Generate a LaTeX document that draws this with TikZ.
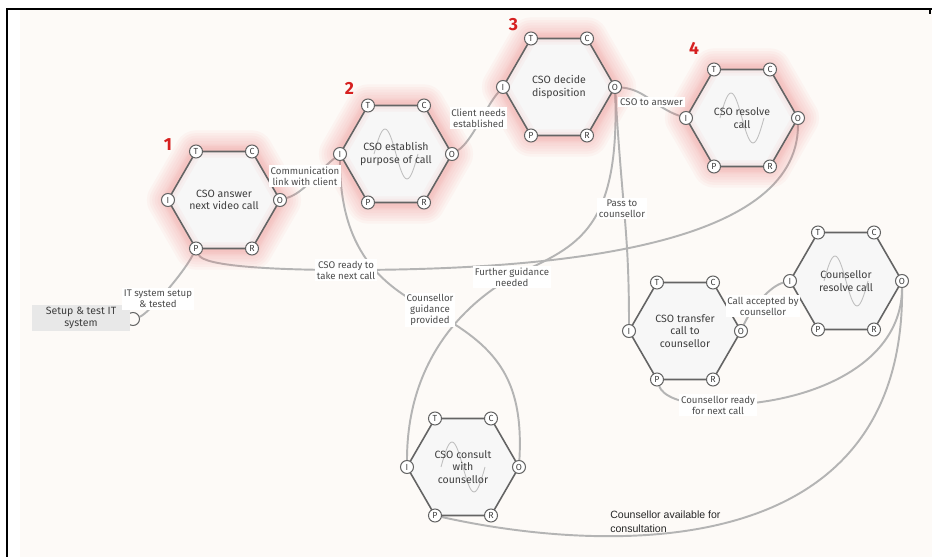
\documentclass[tikz,border=0pt]{standalone}
\usepackage{fontspec}
\setmainfont{Fira Sans}
\newfontfamily\notefont{Liberation Sans}
\usetikzlibrary{positioning, calc, backgrounds}
\definecolor{paper}{RGB}{253,250,247}
\definecolor{fnred}{RGB}{214,32,32}
\definecolor{halored}{RGB}{236,96,96}
\definecolor{edgegrey}{RGB}{100,100,100}
\definecolor{linkgrey}{RGB}{180,180,180}

\begin{document}
\begin{tikzpicture}[
    hexbody/.style={fill=black!3},
    hexedge/.style={draw=edgegrey, line width=0.9pt, line join=round},
    halo/.style={draw=halored, line join=round, opacity=0.045},
    wave/.style={draw=black!25, line width=0.5pt},
    fn/.style={font=\fontsize{6}{7.2}\selectfont, text=black!75,
               align=center, inner sep=1pt},
    port/.style={circle, draw=edgegrey, line width=0.6pt, fill=white,
                 minimum size=0.26cm, inner sep=0pt,
                 font=\fontsize{5}{5}\selectfont, text=black!75},
    setupbox/.style={rectangle, fill=black!9, minimum width=1.96cm,
                     minimum height=0.52cm, align=center, inner sep=1pt,
                     font=\fontsize{6}{6.8}\selectfont, text=black!75},
    link/.style={draw=linkgrey, line width=1.1pt},
    lab/.style={font=\fontsize{5.5}{6.3}\selectfont, text=black!70,
                align=center, fill=white, inner sep=1pt},
    note/.style={font=\notefont\fontsize{6}{8}\selectfont, text=black!85,
                 align=left, anchor=west, inner sep=0pt},
    num/.style={font=\fontsize{10}{10}\selectfont\bfseries, text=fnred},
]

%---------------------------------------------------------------
% Page frame and paper
%---------------------------------------------------------------
\useasboundingbox (0,0) rectangle (18.64,11.14);
\begin{scope}[on background layer]
    \fill[paper] (0.40,0) rectangle (18.64,10.94);
\end{scope}
\draw[black, line width=1.2pt] (0.14,0) -- (0.14,10.96) -- (18.64,10.96);
\draw[black, line width=1.0pt] (18.60,10.96) -- (18.60,10.86);

%---------------------------------------------------------------
% Functions: centres, red halo (steps 1-4) and hexagon bodies
%---------------------------------------------------------------
\foreach \n/\x/\y in {f1/4.48/7.14, f2/7.92/8.06, f3/11.18/9.40,
                      f4/14.84/8.78, f5/16.92/5.52, f6/13.70/4.52,
                      f7/9.26/1.80} {
    \coordinate (\n) at (\x,\y);
}

\foreach \n in {f1,f2,f3,f4} {
    \foreach \w in {24,21,18,15,12,9,6} {
        \draw[halo, line width=\w pt, shift={(\n)}]
            (0:1.12) \foreach \a in {60,120,...,300} {-- (\a:1.12)} -- cycle;
    }
}

\foreach \n in {f1,f2,f3,f4,f5,f6,f7} {
    \fill[hexbody, shift={(\n)}]
        (0:1.12) \foreach \a in {60,120,...,300} {-- (\a:1.12)} -- cycle;
}

% soft inner edge of the halo
\foreach \n in {f1,f2,f3,f4} {
    \foreach \w in {7,4} {
        \draw[halo, line width=\w pt, shift={(\n)}]
            (0:1.12) \foreach \a in {60,120,...,300} {-- (\a:1.12)} -- cycle;
    }
}

% variability waves
\foreach \n in {f2,f4,f5,f7} {
    \draw[wave, shift={(\n)}]
        (-0.44,0) sin (-0.22,0.5) cos (0,0) sin (0.22,-0.5) cos (0.44,0);
}

% outlines, names and the six aspects of each function
\foreach \n/\txt in {f1/{CSO answer\\next video call},
                     f2/{CSO establish\\purpose of call},
                     f3/{CSO decide\\disposition},
                     f4/{CSO resolve\\call},
                     f5/{Counsellor\\resolve call},
                     f6/{CSO transfer\\call to\\counsellor},
                     f7/{CSO consult\\with\\counsellor}} {
    \draw[hexedge, shift={(\n)}]
        (0:1.12) \foreach \a in {60,120,...,300} {-- (\a:1.12)} -- cycle;
    \node[fn] (\n-name) at (\n) {\txt};
    \foreach \p/\a in {I/180, T/120, C/60, O/0, R/300, P/240} {
        \node[port] (\n-\p) at ($(\n)+(\a:1.12)$) {\p};
    }
}

% step numbers
\node[num] (num1) at (3.36,8.24) {1};
\node[num] (num2) at (6.99,9.37) {2};
\node[num] (num3) at (10.27,10.64) {3};
\node[num] (num4) at (13.88,10.17) {4};

%---------------------------------------------------------------
% Background function: IT setup
%---------------------------------------------------------------
\node[port, fill=paper] (setup-O) at (2.66,4.76) {};
\node[setupbox] (setup) at (1.62,4.78) {Setup \& test IT\\system};

%---------------------------------------------------------------
% Couplings (labels first, lines behind them)
%---------------------------------------------------------------
\node[lab] (lb-it)      at (3.16,5.16)  {IT system setup\\\& tested};
\node[lab] (lb-comm)    at (6.10,7.62)  {Communication\\link with client};
\node[lab] (lb-needs)   at (9.57,8.78)  {Client needs\\established};
\node[lab] (lb-answer)  at (13.03,9.10) {CSO to answer};
\node[lab] (lb-pass)    at (12.44,6.97) {Pass to\\counsellor};
\node[lab] (lb-ready)   at (6.92,5.74)  {CSO ready to\\take next call};
\node[lab] (lb-further) at (10.24,5.60) {Further guidance\\needed};
\node[lab] (lb-guide)   at (8.60,4.94)  {Counsellor\\guidance\\provided};
\node[lab] (lb-accept)  at (15.26,5.02) {Call accepted by\\counsellor};
\node[lab] (lb-cready)  at (14.36,3.04) {Counsellor ready\\for next call};
\node[note] (lb-avail)  at (12.20,0.70) {Counsellor available for\\consultation};

\begin{scope}[on background layer]
    \draw[link] (setup-O) .. controls +(0.3,0.1) and +(-0.25,-0.5) .. (f1-P);
    \draw[link] (f1-O) .. controls +(0.5,0.15) and +(-0.45,-0.35) .. (f2-I);
    \draw[link] (f2-O) .. controls +(0.4,0.25) and +(-0.35,-0.4) .. (f3-I);
    \draw[link] (f3-O) .. controls +(0.6,-0.05) and +(-0.6,0.2) .. (f4-I);
    \draw[link] (f3-O) .. controls +(0.15,-2.5) and +(0,2.0) .. (f6-I);
    \draw[link] (f3-O) .. controls +(0.1,-3.0) and +(1.2,0.6) .. (lb-further.center)
                .. controls +(-1.3,-0.75) and +(0,1.8) .. (f7-I);
    \draw[link] (f7-O) .. controls +(0.1,1.8) and +(1.3,-0.7) .. (lb-guide.center)
                .. controls +(-1.0,0.5) and +(0,-1.9) .. (f2-I);
    \draw[link] (f4-O) .. controls +(0,-2.6) and +(4.1,0) .. (lb-ready.center)
                .. controls +(-1.5,0) and +(0.15,-0.35) .. (f1-P);
    \draw[link] (f6-O) .. controls +(0.2,0.45) and +(-0.4,-0.1) .. (f5-I);
    \draw[link] (f5-O) .. controls +(0,-1.7) and +(1.8,0) .. (lb-cready.center)
                .. controls +(-0.8,0) and +(0.1,-0.3) .. (f6-P);
    \draw[link] (f5-O) .. controls +(0.06,-6.0) and +(2.8,-0.63) .. (f7-P);
\end{scope}

\end{tikzpicture}
\end{document}
